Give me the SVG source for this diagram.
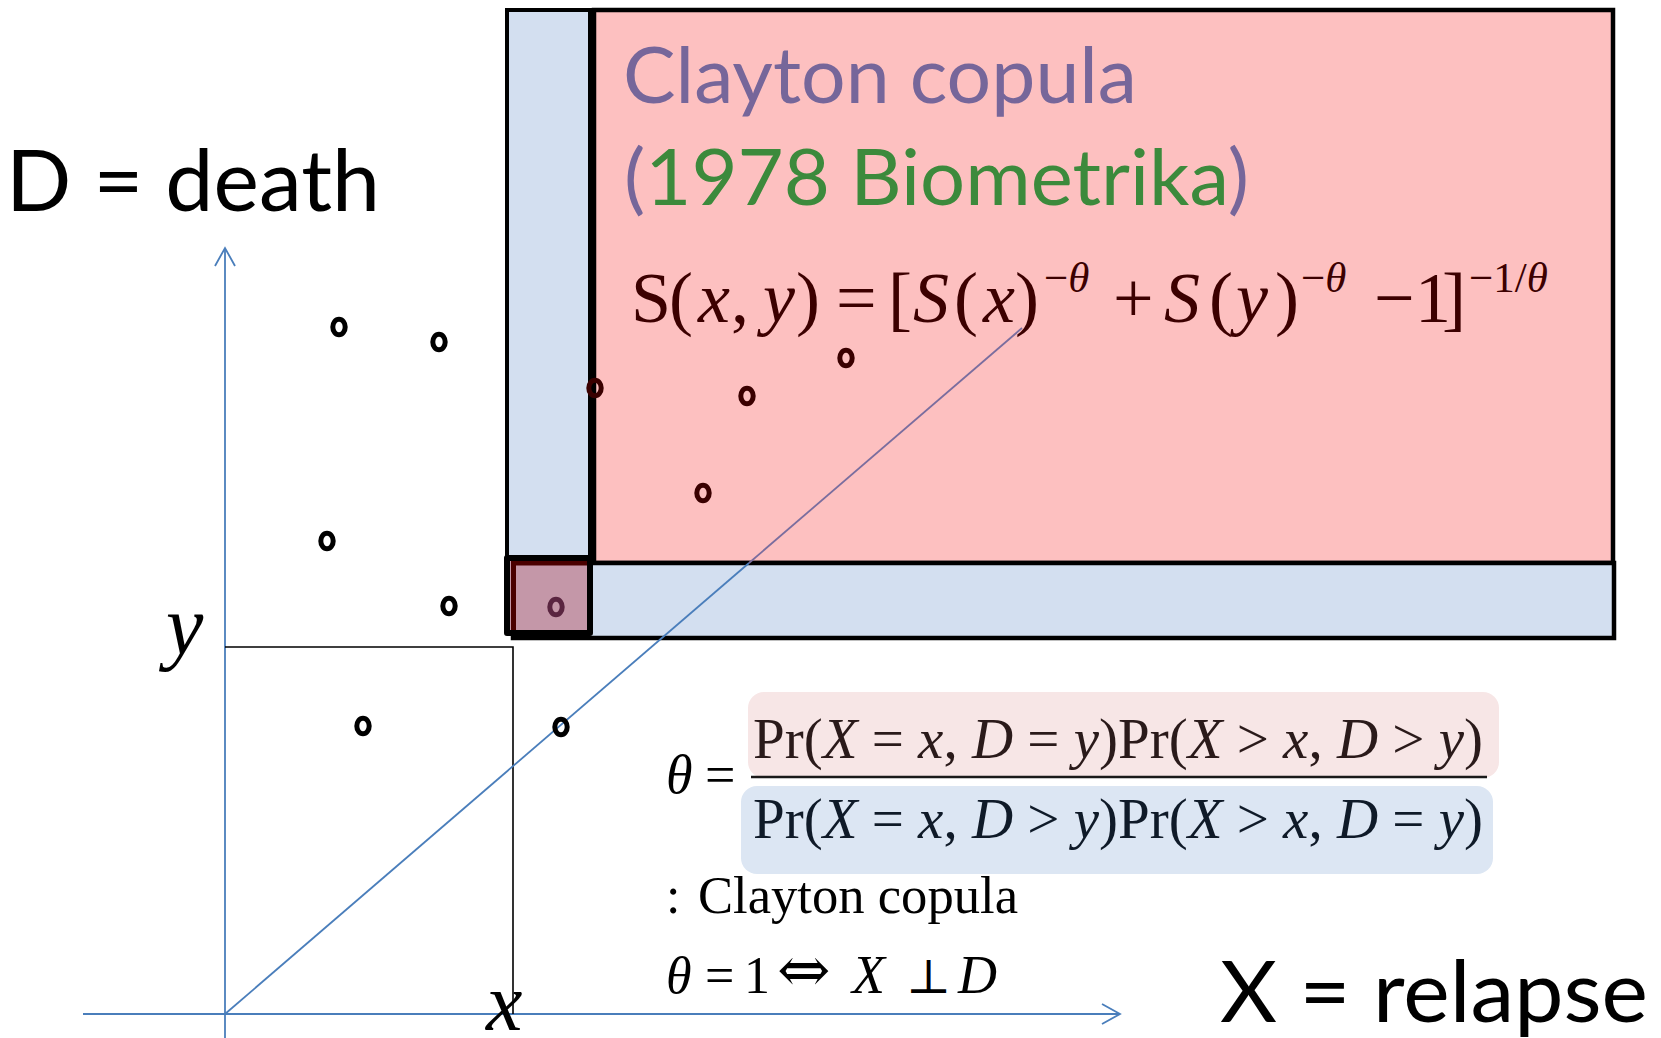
<svg xmlns="http://www.w3.org/2000/svg" width="1661" height="1038" viewBox="0 0 1661 1038">
<defs>
<style>
.pt{fill:none;stroke:#000;stroke-width:5}
.ptr{fill:none;stroke:#3a0000;stroke-width:5}
.ax{fill:none;stroke:#4a7ebb;stroke-width:1.8}
.serif{font-family:"Liberation Serif","DejaVu Serif",serif}
.sym{font-family:"DejaVu Serif","Liberation Serif",serif}
.sans{font-family:Lato,"Open Sans","Liberation Sans",sans-serif}
.it{font-style:italic}
.frm{fill:#3c0000;font-size:72px}
.sup{font-size:43px}
</style>
</defs>
<rect width="1661" height="1038" fill="#fff"/>

<g id="region-x-le-x">
<rect x="507" y="10" width="83" height="553" fill="#d3dff0" stroke="#000" stroke-width="4"/>
</g>
<g id="region-joint-survival">
<rect x="594" y="10" width="1019" height="553" fill="#fdc0c0" stroke="#000" stroke-width="4.5"/>
</g>
<g id="region-d-le-y">
<rect x="513" y="563" width="1101" height="75" fill="#d3dff0" stroke="#000" stroke-width="4.5"/>
</g>
<g id="region-point">
<rect x="507" y="558" width="83" height="75" fill="#c497a8"/>
<path d="M513.5,633 V563 H590" fill="none" stroke="#4a0000" stroke-width="5"/>
<rect x="507" y="558" width="83" height="75" fill="none" stroke="#000" stroke-width="6" stroke-linejoin="round"/>
</g>

<g id="connectors">
<line class="ax" x1="225" y1="249" x2="225" y2="1038"/>
<polyline class="ax" points="215,266 225,248 235,266"/>
<line class="ax" x1="83" y1="1014" x2="1119" y2="1014"/>
<polyline class="ax" points="1102,1004 1120,1014 1102,1024"/>
<polyline points="225,647 513,647 513,1014" fill="none" stroke="#000" stroke-width="1.6"/>
<line x1="225" y1="1014" x2="749" y2="563" stroke="#4a7ebb" stroke-width="1.8"/>
<line x1="749" y1="563" x2="1022" y2="328" stroke="#7a6d9e" stroke-width="1.8"/>
</g>

<g id="points">
<ellipse class="pt" cx="339" cy="327" rx="6.2" ry="7.8"/>
<ellipse class="pt" cx="439" cy="342" rx="6.2" ry="7.8"/>
<ellipse class="pt" cx="327" cy="541" rx="6.2" ry="7.8"/>
<ellipse class="pt" cx="449" cy="606" rx="6.2" ry="7.8"/>
<ellipse class="pt" cx="363" cy="726" rx="6.2" ry="7.8"/>
<ellipse class="pt" cx="561" cy="727" rx="6.2" ry="7.8"/>
<ellipse class="ptr" cx="595" cy="388" rx="6.2" ry="7.8"/>
<ellipse class="ptr" cx="747" cy="396" rx="6.2" ry="7.8"/>
<ellipse class="ptr" cx="846" cy="358" rx="6.2" ry="7.8"/>
<ellipse class="ptr" cx="703" cy="493" rx="6.2" ry="7.8"/>
<ellipse cx="556" cy="607" rx="6.2" ry="7.8" fill="none" stroke="#5a2540" stroke-width="5"/>
</g>

<g id="axis-labels">
<text class="sans" x="6" y="211" font-size="86" textLength="374" lengthAdjust="spacingAndGlyphs" fill="#000">D = death</text>
<text class="sans" x="1220" y="1022" font-size="86" textLength="428" lengthAdjust="spacingAndGlyphs" fill="#000">X = relapse</text>
<text class="serif it" x="166" y="654" font-size="84" fill="#000">y</text>
<text class="serif it" x="486" y="1030" font-size="82" fill="#000">x</text>
</g>

<g id="title">
<text class="sans" x="623" y="103" font-size="78" textLength="514" lengthAdjust="spacingAndGlyphs" fill="#76669a">Clayton copula</text>
<text class="sans" x="624" y="205" font-size="78" textLength="625" lengthAdjust="spacingAndGlyphs" fill="#3c8a3c"><tspan fill="#76669a">(</tspan>1978 Biometrika<tspan fill="#76669a">)</tspan></text>
</g>

<g id="clayton-formula" class="serif frm">
<text y="322"><tspan x="631">S</tspan><tspan x="669">(</tspan><tspan x="698" class="it">x</tspan><tspan x="731">,</tspan><tspan x="763" class="it">y</tspan><tspan x="796">)</tspan><tspan x="836">=</tspan><tspan x="888">[</tspan><tspan x="913" class="it">S</tspan><tspan x="954">(</tspan><tspan x="983" class="it">x</tspan><tspan x="1015">)</tspan></text>
<text y="292" class="sup" x="1044">−<tspan class="it">θ</tspan></text>
<text y="322"><tspan x="1113">+</tspan><tspan x="1164" class="it">S</tspan><tspan x="1209">(</tspan><tspan x="1236" class="it">y</tspan><tspan x="1275">)</tspan></text>
<text y="292" class="sup" x="1301">−<tspan class="it">θ</tspan></text>
<text y="322"><tspan x="1374">−</tspan><tspan x="1415">1</tspan><tspan x="1442">]</tspan></text>
<text y="292" class="sup" x="1469">−1/<tspan class="it">θ</tspan></text>
</g>

<g id="theta-ratio">
<rect x="748" y="692" width="751" height="86" rx="16" fill="#f7e6e6"/>
<rect x="741" y="786" width="752" height="88" rx="16" fill="#dce6f3"/>
<line x1="751" y1="777" x2="1487" y2="777" stroke="#1a1a1a" stroke-width="2.5"/>
<text class="serif it" x="666" y="793" font-size="54" fill="#000">θ</text>
<text class="serif" x="705" y="793" font-size="54" fill="#000">=</text>
<text class="serif" x="753" y="758" font-size="58" textLength="730" lengthAdjust="spacingAndGlyphs" fill="#2a1a1a">Pr(<tspan class="it">X</tspan> = <tspan class="it">x</tspan>, <tspan class="it">D</tspan> = <tspan class="it">y</tspan>)Pr(<tspan class="it">X</tspan> &gt; <tspan class="it">x</tspan>, <tspan class="it">D</tspan> &gt; <tspan class="it">y</tspan>)</text>
<text class="serif" x="753" y="838" font-size="58" textLength="730" lengthAdjust="spacingAndGlyphs" fill="#0f1a28">Pr(<tspan class="it">X</tspan> = <tspan class="it">x</tspan>, <tspan class="it">D</tspan> &gt; <tspan class="it">y</tspan>)Pr(<tspan class="it">X</tspan> &gt; <tspan class="it">x</tspan>, <tspan class="it">D</tspan> = <tspan class="it">y</tspan>)</text>
</g>

<g id="notes" fill="#000">
<text class="serif" x="666" y="913" font-size="52">:</text>
<text class="serif" x="698" y="913" font-size="52" textLength="320" lengthAdjust="spacingAndGlyphs">Clayton copula</text>
<text class="serif it" x="666" y="993" font-size="52">θ</text>
<text class="serif" x="705" y="993" font-size="52">=</text>
<text class="serif" x="744" y="993" font-size="52">1</text>
<text class="sym" x="777" y="992" font-size="64">⇔</text>
<text class="serif it" x="852" y="993" font-size="54">X</text>
<text class="sym" x="906" y="993" font-size="48">⊥</text>
<text class="serif it" x="958" y="993" font-size="54">D</text>
</g>
</svg>
